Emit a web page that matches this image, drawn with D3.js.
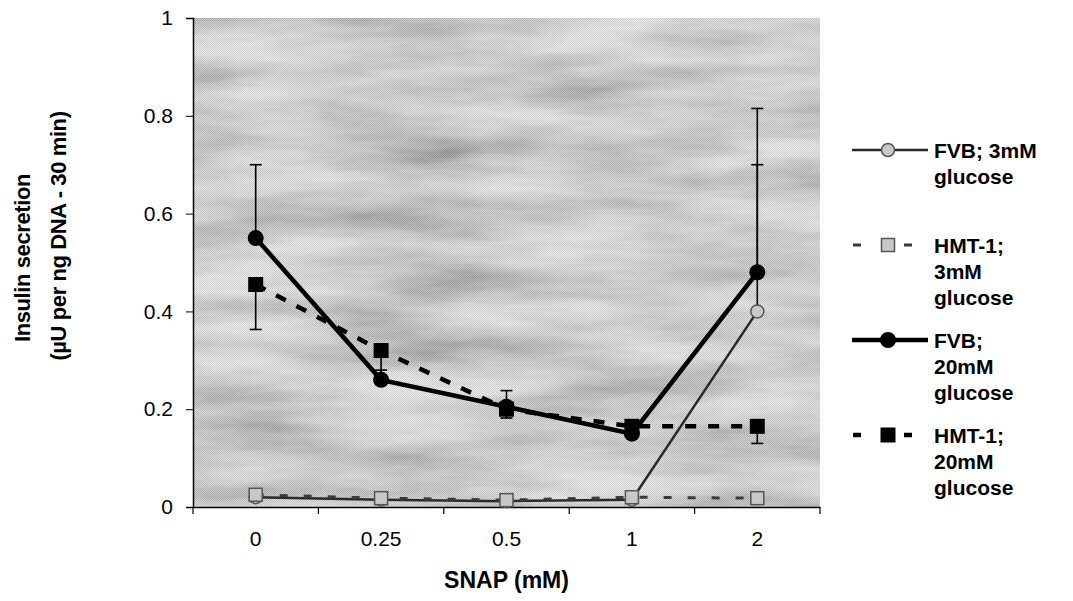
<!DOCTYPE html>
<html>
<head>
<meta charset="utf-8">
<script src="https://cdn.jsdelivr.net/npm/d3@7/dist/d3.min.js"></script>
<style>
  body { margin: 0; background: #fff; }
  text { font-family: "Liberation Sans", Arial, sans-serif; fill: #000; }
</style>
</head>
<body>
<div id="chart"></div>
<script>
// SNAP concentrations (categories)
const snap = ['0', '0.25', '0.5', '1', '2'];

// insulin secretion, uU per ng DNA - 30 min
const fvb3 = [0.02, 0.015, 0.012, 0.015, 0.40];
const fvb3Err = [0.004, 0.004, 0.004, 0.004, 0.30];
const hmt3 = [0.025, 0.018, 0.014, 0.02, 0.018];
const hmt3Err = [0.004, 0.004, 0.004, 0.004, 0.004];
const fvb20 = [0.55, 0.26, 0.205, 0.15, 0.48];
const fvb20Err = [0.15, 0.02, 0.033, 0.01, 0.335];
const hmt20 = [0.455, 0.32, 0.20, 0.165, 0.165];
const hmt20Err = [0.092, 0.053, 0.018, 0.01, 0.035];

const yTicks = [0, 0.2, 0.4, 0.6, 0.8, 1];

const series = [
    { name: ['FVB; 3mM', 'glucose'], values: fvb3, err: fvb3Err, dir: 1, shape: 'circle', filled: false, dash: null, width: 2.5, color: '#2a2a2a' },
    { name: ['HMT-1;', '3mM', 'glucose'], values: hmt3, err: hmt3Err, dir: -1, shape: 'square', filled: false, dash: '8,16', width: 3, color: '#3a3a3a' },
    { name: ['FVB;', '20mM', 'glucose'], values: fvb20, err: fvb20Err, dir: 1, shape: 'circle', filled: true, dash: null, width: 4.5, color: '#000' },
    { name: ['HMT-1;', '20mM', 'glucose'], values: hmt20, err: hmt20Err, dir: -1, shape: 'square', filled: true, dash: '11,12', width: 4.5, color: '#000' }
];

const svgWidth = 1073;
const svgHeight = 601;

const margin = { top: 18, left: 193, right: 253, bottom: 94 };

const svg = d3.select('#chart').append('svg')
    .attr('width', svgWidth)
    .attr('height', svgHeight);

const x = d3.scaleBand()
    .domain(snap)
    .range([margin.left, svgWidth - margin.right]);

const y = d3.scaleLinear()
    .domain([0, 1])
    .range([svgHeight - margin.bottom, margin.top]);

// textured grey plot background: fine halftone + soft mottling
const defs = svg.append('defs');

const dots = defs.append('pattern')
    .attr('id', 'dots')
    .attr('width', 2).attr('height', 2)
    .attr('patternUnits', 'userSpaceOnUse');
dots.append('rect').attr('width', 2).attr('height', 2).attr('fill', '#d6d6d6');
dots.append('rect').attr('width', 1).attr('height', 1).attr('fill', '#9a9a9a');
dots.append('rect').attr('x', 1).attr('y', 1).attr('width', 1).attr('height', 1).attr('fill', '#a6a6a6');

const tex = defs.append('filter')
    .attr('id', 'tex')
    .attr('x', 0).attr('y', 0).attr('width', 1).attr('height', 1);
tex.append('feTurbulence')
    .attr('type', 'fractalNoise')
    .attr('baseFrequency', '0.006 0.03')
    .attr('numOctaves', 4)
    .attr('seed', 11);
tex.append('feColorMatrix')
    .attr('type', 'matrix')
    .attr('values', '1.2 0 0 0 0.1  1.2 0 0 0 0.1  1.2 0 0 0 0.1  0 0 0 0 0.5');

const plotX = x.range()[0];
const plotW = x.range()[1] - x.range()[0];

svg.append('rect')
    .attr('x', plotX)
    .attr('y', y(1))
    .attr('width', plotW)
    .attr('height', y(0) - y(1))
    .attr('fill', 'url(#dots)');

svg.append('rect')
    .attr('x', plotX)
    .attr('y', y(1))
    .attr('width', plotW)
    .attr('height', y(0) - y(1))
    .attr('filter', 'url(#tex)');

// axes
const yAxis = svg.append('g')
    .attr('transform', `translate(${margin.left},0)`)
    .call(d3.axisLeft(y).tickValues(yTicks).tickFormat(d3.format('')).tickSize(7).tickPadding(13));

const xAxis = svg.append('g')
    .attr('transform', `translate(0,${y(0)})`)
    .call(d3.axisBottom(x).tickSize(0).tickPadding(24));

[yAxis, xAxis].forEach(g => {
    g.select('.domain').attr('stroke', '#000').attr('stroke-width', 1.5);
    g.selectAll('text').style('font-size', '21px').attr('fill', '#000');
});

// tick marks between categories on the x axis
xAxis.selectAll('.sep')
    .data(d3.range(snap.length + 1))
    .enter()
    .append('line')
    .attr('x1', i => plotX + i * x.step())
    .attr('x2', i => plotX + i * x.step())
    .attr('y1', 0)
    .attr('y2', 7)
    .attr('stroke', '#000')
    .attr('stroke-width', 1.2);

// axis titles
svg.append('text')
    .attr('x', plotX + plotW / 2)
    .attr('y', 588)
    .style('text-anchor', 'middle')
    .style('font-size', '23px')
    .style('font-weight', 'bold')
    .text('SNAP (mM)');

svg.append('text')
    .attr('transform', 'translate(30,258) rotate(-90)')
    .style('text-anchor', 'middle')
    .style('font-size', '22px')
    .style('font-weight', 'bold')
    .style('letter-spacing', '-0.4px')
    .text('Insulin secretion');

svg.append('text')
    .attr('transform', 'translate(66,236) rotate(-90)')
    .style('text-anchor', 'middle')
    .style('font-size', '22px')
    .style('font-weight', 'bold')
    .style('letter-spacing', '-0.4px')
    .text('(\u00b5U per ng DNA - 30 min)');

const cx = i => x(snap[i]) + x.bandwidth() / 2;

function drawMarker(g, s, px, py) {
    if (s.shape === 'circle') {
        g.append('circle')
            .attr('cx', px).attr('cy', py)
            .attr('r', s.filled ? 8 : 6.5)
            .attr('fill', s.filled ? '#000' : '#c8c8c8')
            .attr('stroke', s.filled ? '#000' : '#555')
            .attr('stroke-width', s.filled ? 0 : 1.5);
    } else {
        const h = s.filled ? 7.5 : 6.5;
        g.append('rect')
            .attr('x', px - h).attr('y', py - h)
            .attr('width', 2 * h).attr('height', 2 * h)
            .attr('fill', s.filled ? '#000' : '#c8c8c8')
            .attr('stroke', s.filled ? '#000' : '#555')
            .attr('stroke-width', s.filled ? 0 : 1.5);
    }
}

const line = d3.line()
    .x((d, i) => cx(i))
    .y(d => y(d));

const plot = svg.append('g');

// lines
series.forEach(s => {
    plot.append('path')
        .datum(s.values)
        .attr('d', line)
        .attr('fill', 'none')
        .attr('stroke', s.color)
        .attr('stroke-width', s.width)
        .attr('stroke-dasharray', s.dash);
});

// error bars (FVB upward, HMT-1 downward)
series.forEach(s => {
    s.values.forEach((v, i) => {
        const end = v + s.dir * s.err[i];
        plot.append('line')
            .attr('x1', cx(i)).attr('x2', cx(i))
            .attr('y1', y(v)).attr('y2', y(end))
            .attr('stroke', '#000').attr('stroke-width', 1.6);
        plot.append('line')
            .attr('x1', cx(i) - 6).attr('x2', cx(i) + 6)
            .attr('y1', y(end)).attr('y2', y(end))
            .attr('stroke', '#000').attr('stroke-width', 1.6);
    });
});

// markers
series.forEach(s => {
    s.values.forEach((v, i) => drawMarker(plot, s, cx(i), y(v)));
});

// legend
const legendTop = [150, 245, 340, 435];
const lineH = 26;

series.forEach((s, k) => {
    const g = svg.append('g');
    const ly = legendTop[k];
    if (s.dash) {
        [[853, 861], [904, 912]].forEach(seg => {
            g.append('line')
                .attr('x1', seg[0]).attr('x2', seg[1])
                .attr('y1', ly).attr('y2', ly)
                .attr('stroke', s.color).attr('stroke-width', s.width);
        });
    } else {
        g.append('line')
            .attr('x1', 852).attr('x2', 928)
            .attr('y1', ly).attr('y2', ly)
            .attr('stroke', s.color).attr('stroke-width', s.width);
    }
    drawMarker(g, s, 888, ly);
    s.name.forEach((t, j) => {
        g.append('text')
            .attr('x', 934)
            .attr('y', ly + j * lineH)
            .attr('dy', '0.36em')
            .style('font-size', '21px')
            .style('font-weight', 'bold')
            .text(t);
    });
});
</script>
</body>
</html>
